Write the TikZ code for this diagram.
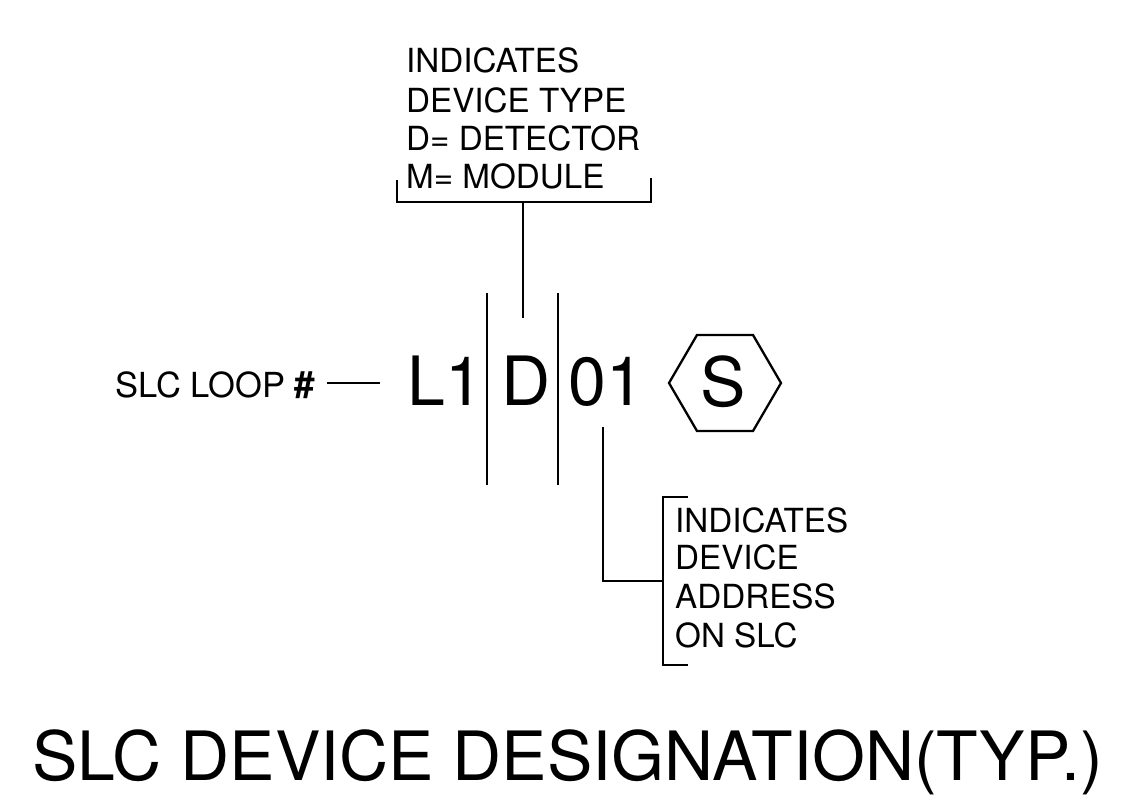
\documentclass[tikz,border=0pt]{standalone}
\usepackage{fontspec}
\setmainfont{TeX Gyre Heros}
\tikzset{
 lbl/.style={inner sep=0pt,anchor=base west,font=\fontsize{33.2pt}{33pt}\selectfont},
 big/.style={inner sep=0pt,anchor=base west,font=\fontsize{68pt}{68pt}\selectfont},
 ln/.style={line width=2.3pt,black},
}
\begin{document}
\begin{tikzpicture}[x=1pt,y=-1pt]
\useasboundingbox (0,0) rectangle (1131,807);
\node[lbl] (t1) at (406,72) {INDICATES};
\node[lbl] (t2) at (406,112) {DEVICE TYPE};
\node[lbl] (t3) at (406,150) {D= DETECTOR};
\node[lbl] (t4) at (406,188) {M= MODULE};
\coordinate (bl) at (397,180); \coordinate (blb) at (397,202);
\coordinate (br) at (651,178); \coordinate (brb) at (651,202);
\draw[ln] (bl) -- (blb) -- (brb) -- (br);
\coordinate (bm) at (523,202); \coordinate (bme) at (523,318);
\draw[ln] (bm) -- (bme);
\node[lbl,font=\fontsize{34.5pt}{34pt}\selectfont] (slc) at (115,397) {SLC LOOP \textbf{\fontsize{37pt}{37pt}\selectfont\#}};
\coordinate (d1) at (327,383); \coordinate (d2) at (380,383);
\draw[ln] (d1) -- (d2);
\node[big] (l1) at (407,405) {L1};
\node[big] (d) at (501,405) {D};
\node[big] (n) at (568,405) {01};
\coordinate (s1a) at (487,293); \coordinate (s1b) at (487,485);
\coordinate (s2a) at (558,293); \coordinate (s2b) at (558,485);
\draw[ln] (s1a) -- (s1b);
\draw[ln] (s2a) -- (s2b);
\coordinate (h1) at (669,383); \coordinate (h2) at (697,431); \coordinate (h3) at (753,431);
\coordinate (h4) at (781,383); \coordinate (h5) at (753,335); \coordinate (h6) at (697,335);
\draw[ln] (h1) -- (h2) -- (h3) -- (h4) -- (h5) -- (h6) -- cycle;
\node[big,anchor=base] (s) at (723,406) {S};
\coordinate (c1) at (603,427); \coordinate (c2) at (603,581); \coordinate (c3) at (663,581);
\draw[ln] (c1) -- (c2) -- (c3);
\coordinate (k1) at (688,497); \coordinate (k2) at (663,497); \coordinate (k3) at (663,665); \coordinate (k4) at (688,665);
\draw[ln] (k1) -- (k2) -- (k3) -- (k4);
\node[lbl] (a1) at (675,532) {INDICATES};
\node[lbl] (a2) at (675,569) {DEVICE};
\node[lbl] (a3) at (675,608) {ADDRESS};
\node[lbl] (a4) at (675,647) {ON SLC};
\node[big] (title) at (32,780) {SLC DEVICE DESIGNATION(TYP.)};
\end{tikzpicture}
\end{document}
